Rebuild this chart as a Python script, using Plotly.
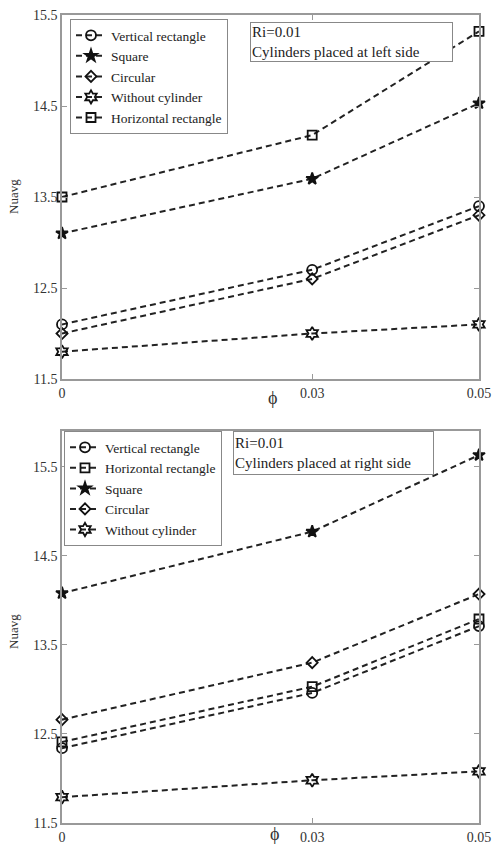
import plotly.graph_objects as go

phi = [0, 0.03, 0.05]
phi_ticks = ["0", "0.03", "0.05"]
nu_ticks = [11.5, 12.5, 13.5, 14.5, 15.5]

# Top: cylinders placed at left side
left_vertical = [12.1, 12.7, 13.4]
left_square = [13.1, 13.7, 14.53]
left_circular = [12.0, 12.6, 13.3]
left_without = [11.8, 12.0, 12.1]
left_horizontal = [13.5, 14.18, 15.32]

# Bottom: cylinders placed at right side
right_vertical = [12.34, 12.96, 13.71]
right_horizontal = [12.41, 13.03, 13.79]
right_square = [14.08, 14.77, 15.63]
right_circular = [12.66, 13.3, 14.07]
right_without = [11.79, 11.98, 12.08]

W, H = 492, 845
FONT = "Liberation Serif"

sym = {
    "Vertical rectangle": "circle-open",
    "Square": "star",
    "Circular": "diamond-open",
    "Without cylinder": "hexagram-open",
    "Horizontal rectangle": "square-open",
}
msize = {
    "Vertical rectangle": 10,
    "Square": 9,
    "Circular": 8.5,
    "Without cylinder": 10,
    "Horizontal rectangle": 9,
}

fig = go.Figure()

top_series = [
    ("Vertical rectangle", left_vertical),
    ("Square", left_square),
    ("Circular", left_circular),
    ("Without cylinder", left_without),
    ("Horizontal rectangle", left_horizontal),
]
bot_series = [
    ("Vertical rectangle", right_vertical),
    ("Horizontal rectangle", right_horizontal),
    ("Square", right_square),
    ("Circular", right_circular),
    ("Without cylinder", right_without),
]

def add(series, xa, ya, lg):
    for name, vals in series:
        fig.add_trace(go.Scatter(
            x=phi, y=vals, name=name, mode="lines+markers",
            line=dict(color="#222", width=2, dash="6px,4px"),
            marker=dict(symbol=sym[name], size=msize[name], color="#111",
                        line=dict(color="#111", width=1.8)),
            cliponaxis=False, xaxis=xa, yaxis=ya, legend=lg,
        ))

add(top_series, "x", "y", "legend")
add(bot_series, "x2", "y2", "legend2")

xd = [62 / W, 479 / W]
def ydom(top, bot):
    return [1 - bot / H, 1 - top / H]

axis_common = dict(
    showline=True, linecolor="#999", linewidth=1.5, mirror="ticks",
    ticks="inside", ticklen=5, tickcolor="#999", showgrid=False, zeroline=False,
    automargin=False,
    tickfont=dict(family=FONT, size=14, color="#333"),
)

legend_common = dict(
    xanchor="left", yanchor="top", bgcolor="white", bordercolor="#888",
    borderwidth=1, font=dict(family=FONT, size=13.5, color="#222"),
    tracegroupgap=0, itemwidth=30,
)

fig.update_layout(
    width=W, height=H,
    margin=dict(l=0, r=0, t=0, b=0, autoexpand=False),
    paper_bgcolor="white", plot_bgcolor="white",
    font=dict(family=FONT, color="#222"),
    xaxis=dict(domain=xd, range=[0, 0.05], tickvals=phi, ticktext=phi_ticks,
               anchor="y", **axis_common),
    yaxis=dict(domain=ydom(15, 379), range=[11.5, 15.5], tickvals=nu_ticks,
               ticktext=[str(v) for v in nu_ticks], anchor="x", **axis_common),
    xaxis2=dict(domain=xd, range=[0, 0.05], tickvals=phi, ticktext=phi_ticks,
                anchor="y2", **axis_common),
    yaxis2=dict(domain=ydom(431, 823), range=[11.5, 15.9], tickvals=nu_ticks,
                ticktext=[str(v) for v in nu_ticks], anchor="x2", **axis_common),
    legend=dict(x=70 / W, y=1 - 19 / H, **legend_common),
    legend2=dict(x=64 / W, y=1 - 431 / H, **legend_common),
    showlegend=True,
)

annots = [
    dict(text="Ri=0.01<br>Cylinders placed at left side", x=250 / W, y=1 - 22 / H,
         w=199, h=36),
    dict(text="Ri=0.01<br>Cylinders placed at right side", x=233 / W, y=1 - 431 / H,
         w=197, h=40),
]
for a in annots:
    fig.add_annotation(
        text=a["text"], x=a["x"], y=a["y"], xref="paper", yref="paper",
        xanchor="left", yanchor="top", align="left", valign="middle",
        width=a["w"], height=a["h"], showarrow=False,
        font=dict(family=FONT, size=15, color="#222"),
        bordercolor="#888", borderwidth=1, borderpad=1, bgcolor="white",
    )

# axis titles
for yc in (197, 632):
    fig.add_annotation(text="Nuavg", x=13 / W, y=1 - yc / H, xref="paper", yref="paper",
                       textangle=-90, showarrow=False, xanchor="center", yanchor="middle",
                       font=dict(family=FONT, size=13, color="#333"))
for xc, yc in ((272, 398), (274, 834)):
    fig.add_annotation(text="ϕ", x=xc / W, y=1 - yc / H, xref="paper", yref="paper",
                       showarrow=False, xanchor="center", yanchor="middle",
                       font=dict(family=FONT, size=18, color="#333"))

fig.write_html("out.html", config={"displayModeBar": False},
               post_script="document.body.style.margin='0px';document.body.style.overflow='hidden';")
